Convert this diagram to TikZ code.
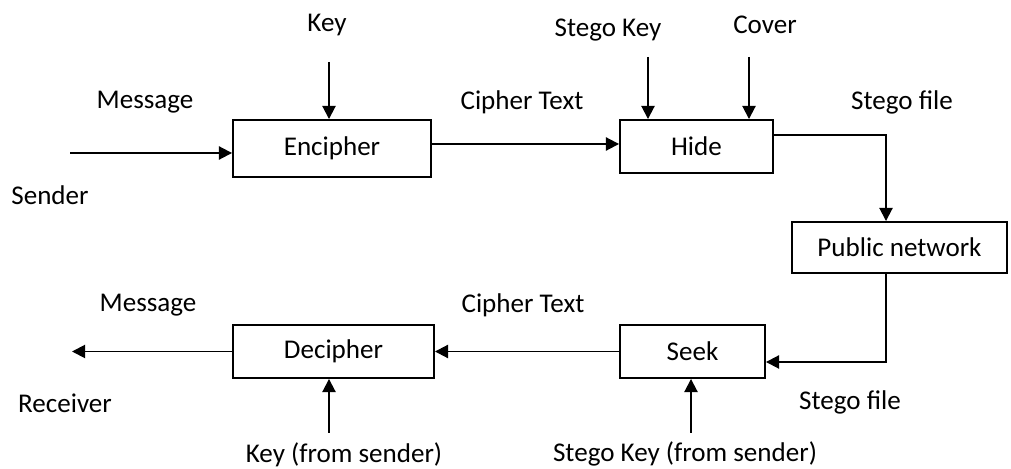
\documentclass[tikz,border=0pt]{standalone}
\usepackage{fontspec}
\setmainfont{Carlito}
\usetikzlibrary{arrows.meta}
\tikzset{
  blk/.style={draw=black, line width=1.1pt, inner sep=0pt},
  lbl/.style={inner sep=0pt},
  arr/.style={-{Triangle[length=7.5pt,width=7.5pt]}, line width=1.1pt},
  ln/.style={line width=1.1pt}
}

\begin{document}
\begin{tikzpicture}[x=0.02cm, y=-0.02cm, font=\fontsize{15.4}{18}\selectfont]
  \useasboundingbox (0,0) rectangle (1011,469);
  % blocks
  \node[blk, minimum width=3.96cm, minimum height=1.14cm] (enc) at (332,148.5) {Encipher};
  \node[blk, minimum width=3.06cm, minimum height=1.06cm] (hide) at (696.5,146.5) {Hide};
  \node[blk, minimum width=4.3cm, minimum height=1.02cm] (pub) at (899.5,247.5) {Public network};
  \node[blk, minimum width=2.9cm, minimum height=1.06cm] (seek) at (692.5,351.5) {Seek};
  \node[blk, minimum width=4.02cm, minimum height=1.06cm] (dec) at (333.5,351.5) {Decipher};
  % labels
  \node[lbl] (lkey) at (327,25) {Key};
  \node[lbl] (lmsgin) at (145,102) {Message};
  \node[lbl] (lsender) at (50,195) {Sender};
  \node[lbl] (lcipherA) at (522,102) {Cipher Text};
  \node[lbl] (lskey) at (608,30) {Stego Key};
  \node[lbl] (lcover) at (765,25) {Cover};
  \node[lbl] (lstegoA) at (902,102) {Stego file};
  \node[lbl] (lmsgout) at (148,305) {Message};
  \node[lbl] (lreceiver) at (65,403) {Receiver};
  \node[lbl] (lcipherB) at (523,305) {Cipher Text};
  \node[lbl] (lstegoB) at (850,402) {Stego file};
  \node[lbl] (lkeyfrom) at (344,455) {Key (from sender)};
  \node[lbl] (lskeyfrom) at (685,454) {Stego Key (from sender)};
  % free ends
  \coordinate (msgin) at (70,153);
  \coordinate (keyin) at (329,62);
  \coordinate (skin) at (648,57);
  \coordinate (covin) at (749,57);
  \coordinate (msgout) at (72,351.5);
  \coordinate (keyfrom) at (329,433);
  \coordinate (skfrom) at (691,433);
  % sender side
  \draw[arr] (msgin) -- (msgin -| enc.west);
  \draw[arr] (keyin) -- (keyin |- enc.north);
  \draw[arr] ([yshift=0.09cm]enc.east) -- ([yshift=0.09cm]enc.east -| hide.west);
  \draw[arr] (skin) -- (skin |- hide.north);
  \draw[arr] (covin) -- (covin |- hide.north);
  \draw[arr] ([yshift=0.23cm]hide.east) -| ([xshift=-0.27cm]pub.north);
  % receiver side
  \draw[arr] ([xshift=-0.27cm]pub.south) |- ([yshift=-0.21cm]seek.east);
  \draw[arr] (seek.west) -- (dec.east);
  \draw[arr] (dec.west) -- (dec.west -| msgout);
  \draw[arr] (keyfrom) -- (keyfrom |- dec.south);
  \draw[arr] (skfrom) -- (skfrom |- seek.south);
\end{tikzpicture}
\end{document}
